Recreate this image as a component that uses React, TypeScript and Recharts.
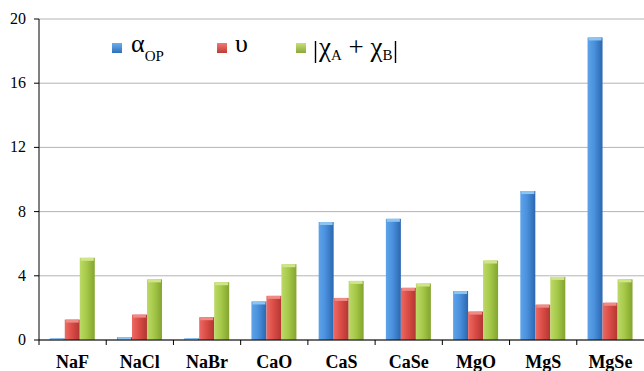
import React from 'react';
import { BarChart, Bar, XAxis, YAxis, CartesianGrid } from 'recharts';

const categories = ['NaF', 'NaCl', 'NaBr', 'CaO', 'CaS', 'CaSe', 'MgO', 'MgS', 'MgSe'];
const alphaOP = [0.1, 0.18, 0.1, 2.4, 7.35, 7.55, 3.05, 9.28, 18.85];
const upsilon = [1.27, 1.58, 1.42, 2.75, 2.62, 3.25, 1.77, 2.2, 2.32];
const chiSum = [5.12, 3.78, 3.6, 4.72, 3.68, 3.52, 4.95, 3.93, 3.78];
const yTicks = [0, 4, 8, 12, 16, 20];

const data = categories.map((name, i) => ({
  name,
  alpha: alphaOP[i],
  upsilon: upsilon[i],
  chi: chiSum[i],
}));

const serif = 'Liberation Serif, Times New Roman, serif';

// bevelled office-style bar: gradient body plus a light cap on top
const makeShape = (grad: string, cap: string) => (props: any) => {
  const { x, y, width, height } = props;
  if (!height || height <= 0) return <g />;
  return (
    <g>
      <rect x={x} y={y} width={width} height={height} fill={`url(#${grad})`} />
      <rect x={x + 1} y={y} width={width - 2} height={Math.min(3, height)} fill={cap} />
    </g>
  );
};

const BlueShape = makeShape('gBlue', '#8cc4f2');
const RedShape = makeShape('gRed', '#f08a85');
const GreenShape = makeShape('gGreen', '#cfe58a');

const CategoryTick = (props: any) => {
  const { x, y, payload } = props;
  const left = x - (payload.offset || 0);
  return (
    <g>
      <line x1={left} y1={y - 7} x2={left} y2={y - 2} stroke="#000" />
      <text x={x} y={y + 21} textAnchor="middle" style={{ fontFamily: serif, fontWeight: 'bold', fontSize: 18 }} fill="#000">
        {payload.value}
      </text>
    </g>
  );
};

const NumTick = (props: any) => {
  const { x, y, payload } = props;
  return (
    <text x={x} y={y} dy={5} textAnchor="end" style={{ fontFamily: serif, fontSize: 16 }} fill="#000">
      {payload.value}
    </text>
  );
};

const Swatch = ({ x, id }: { x: number; id: string }) => (
  <rect x={x} y={43} width={10} height={10} fill={`url(#${id})`} />
);

const ChartLegend = () => (
  <svg width={644} height={80} style={{ position: 'absolute', left: 0, top: 0, pointerEvents: 'none', fontFamily: serif }}>
    <defs>
      <linearGradient id="lBlue" x1="0" y1="0" x2="0" y2="1">
        <stop offset="0" stopColor="#6aaeee" />
        <stop offset="1" stopColor="#2f6fba" />
      </linearGradient>
      <linearGradient id="lRed" x1="0" y1="0" x2="0" y2="1">
        <stop offset="0" stopColor="#f07a74" />
        <stop offset="1" stopColor="#c03a35" />
      </linearGradient>
      <linearGradient id="lGreen" x1="0" y1="0" x2="0" y2="1">
        <stop offset="0" stopColor="#c8e07a" />
        <stop offset="1" stopColor="#8aa935" />
      </linearGradient>
    </defs>
    <Swatch x={112} id="lBlue" />
    <text x={131} y={52} style={{ fontFamily: serif, fontSize: 26 }} fill="#000">
      α<tspan style={{ fontSize: 15 }} dy={9}>OP</tspan>
    </text>
    <Swatch x={217} id="lRed" />
    <text x={235} y={52} style={{ fontFamily: serif, fontSize: 26 }} fill="#000">υ</text>
    <Swatch x={296} id="lGreen" />
    <line x1={315.5} y1={41} x2={315.5} y2={63} stroke="#000" strokeWidth={1.4} />
    <text x={319} y={56} style={{ fontFamily: serif, fontSize: 27 }} fill="#000">
      χ<tspan style={{ fontSize: 15 }} dy={4}>A</tspan>
      <tspan dy={-4}> + χ</tspan>
      <tspan style={{ fontSize: 15 }} dy={4}>B</tspan>
    </text>
    <line x1={395.5} y1={41} x2={395.5} y2={63} stroke="#000" strokeWidth={1.4} />
  </svg>
);

export default function App() {
  return (
    <div style={{ position: 'absolute', left: 0, top: 0, width: 644, height: 371, background: '#fff', fontFamily: serif }}>
      <BarChart
        width={644}
        height={371}
        data={data}
        margin={{ top: 19, right: 0, left: 0, bottom: 0 }}
        barCategoryGap="16%"
        barGap={0}
      >
        <defs>
          <linearGradient id="gBlue" x1="0" y1="0" x2="1" y2="0">
            <stop offset="0" stopColor="#5ea4ea" />
            <stop offset="0.45" stopColor="#4a90dc" />
            <stop offset="1" stopColor="#2b67b0" />
          </linearGradient>
          <linearGradient id="gRed" x1="0" y1="0" x2="1" y2="0">
            <stop offset="0" stopColor="#ec6a64" />
            <stop offset="0.45" stopColor="#dc4d47" />
            <stop offset="1" stopColor="#b23632" />
          </linearGradient>
          <linearGradient id="gGreen" x1="0" y1="0" x2="1" y2="0">
            <stop offset="0" stopColor="#bcd966" />
            <stop offset="0.45" stopColor="#a6c94a" />
            <stop offset="1" stopColor="#84a42e" />
          </linearGradient>
        </defs>
        <CartesianGrid vertical={false} stroke="#b4b4b4" />
        <XAxis
          dataKey="name"
          height={31}
          stroke="#000"
          tickLine={false}
          tickSize={5}
          tickMargin={2}
          interval={0}
          tick={<CategoryTick />}
        />
        <YAxis
          width={39}
          domain={[0, 20]}
          ticks={yTicks}
          stroke="#000"
          tickSize={5}
          tickMargin={8}
          tick={<NumTick />}
        />
        <Bar dataKey="alpha" shape={BlueShape} isAnimationActive={false} />
        <Bar dataKey="upsilon" shape={RedShape} isAnimationActive={false} />
        <Bar dataKey="chi" shape={GreenShape} isAnimationActive={false} />
      </BarChart>
      <ChartLegend />
    </div>
  );
}
